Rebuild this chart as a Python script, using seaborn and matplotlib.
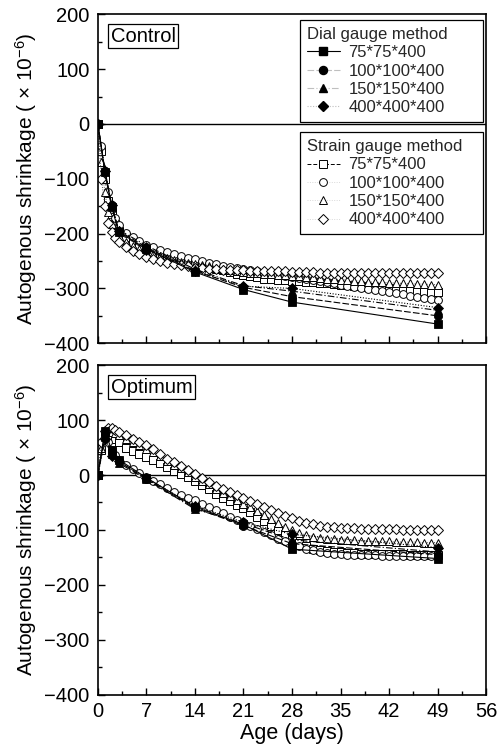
import matplotlib
matplotlib.use("Agg")
import matplotlib.pyplot as plt
import seaborn as sns
import numpy as np
import pandas as pd
from matplotlib.lines import Line2D
from matplotlib.ticker import MultipleLocator

sns.set_theme(style="white")
plt.rcParams['font.family'] = ['Liberation Sans', 'DejaVu Sans']
plt.rcParams['mathtext.fontset'] = 'custom'
plt.rcParams['mathtext.rm'] = 'Liberation Sans'
plt.rcParams['mathtext.default'] = 'regular'

# ---------------- data ----------------
specimens = ["75*75*400", "100*100*400", "150*150*400", "400*400*400"]
dial_days = [0, 1, 2, 3, 7, 14, 21, 28, 49]
strain_days = [0, 0.5, 1, 1.5, 2, 2.5, 3] + list(range(4, 50))

# Control - dial gauge
ctrl_dial_75 = [0, -88, -152, -197, -228, -270, -302, -325, -365]
ctrl_dial_100 = [0, -85, -148, -195, -225, -268, -298, -315, -350]
ctrl_dial_150 = [0, -84, -150, -193, -222, -265, -295, -305, -340]
ctrl_dial_400 = [0, -86, -147, -196, -230, -268, -296, -300, -335]

# Control - strain gauge
ctrl_strain_75 = [0, -50, -100, -140, -165, -182, -195,
                  -207, -216, -223, -229, -234, -238, -242, -246, -249, -252,
                  -255, -258, -261, -264, -267, -270, -273, -276, -278, -280,
                  -282, -283, -284, -285, -286, -287, -288, -289, -290, -291,
                  -292, -293, -294, -295, -296, -297, -298, -299, -300, -301,
                  -302, -303, -304, -305, -306, -307]
ctrl_strain_100 = [0, -40, -85, -125, -155, -172, -185,
                   -198, -207, -214, -220, -225, -230, -234, -238, -241, -244,
                   -247, -250, -253, -256, -259, -261, -263, -265, -267, -269,
                   -271, -273, -275, -277, -279, -281, -283, -285, -287, -289,
                   -291, -293, -295, -297, -299, -301, -303, -305, -307, -309,
                   -311, -313, -315, -317, -319, -321]
ctrl_strain_150 = [0, -70, -125, -160, -182, -195, -205,
                   -215, -222, -228, -233, -237, -241, -245, -248, -251, -254,
                   -256, -258, -260, -262, -264, -266, -268, -270, -271, -272,
                   -273, -274, -275, -276, -277, -278, -279, -280, -281, -282,
                   -283, -284, -285, -286, -287, -288, -289, -289, -290, -290,
                   -291, -291, -292, -292, -293, -293]
ctrl_strain_400 = [0, -100, -150, -180, -197, -208, -215,
                   -224, -231, -237, -242, -246, -250, -253, -256, -258, -260,
                   -262, -263, -264, -265, -266, -266, -267, -267, -268, -268,
                   -268, -269, -269, -269, -270, -270, -270, -270, -271, -271,
                   -271, -271, -271, -272, -272, -272, -272, -272, -272, -272,
                   -272, -272, -272, -272, -272, -272]

# Optimum - dial gauge
opt_dial_75 = [0, 80, 45, 28, -5, -58, -90, -135, -152]
opt_dial_100 = [0, 75, 40, 25, -7, -60, -92, -125, -145]
opt_dial_150 = [0, 70, 38, 22, -8, -62, -88, -118, -140]
opt_dial_400 = [0, 65, 35, 25, -6, -56, -86, -108, -132]

# Optimum - strain gauge
opt_strain_75 = [0, 45, 68, 72, 70, 65, 60,
                 50, 44, 38, 33, 27, 21, 15, 8, 2, -4,
                 -10, -18, -26, -34, -41, -48, -54, -60, -68, -76,
                 -84, -92, -100, -108, -116, -123, -129, -134, -137, -139,
                 -140, -141, -142, -142, -143, -143, -143, -144, -144, -144,
                 -144, -145, -145, -145, -145, -145]
opt_strain_100 = [0, 50, 72, 60, 46, 36, 28,
                  19, 11, 4, -3, -10, -17, -24, -30, -36, -41,
                  -46, -52, -58, -64, -70, -76, -81, -86, -92, -98,
                  -104, -110, -116, -121, -126, -130, -134, -137, -140, -142,
                  -143, -144, -145, -145, -146, -146, -146, -147, -147, -147,
                  -147, -148, -148, -148, -148, -148]
opt_strain_150 = [0, 50, 75, 80, 79, 76, 72,
                  66, 60, 54, 48, 41, 34, 26, 19, 12, 5,
                  -3, -10, -17, -25, -32, -39, -46, -52, -59, -66,
                  -73, -80, -87, -94, -100, -105, -109, -112, -114, -116,
                  -117, -118, -119, -119, -120, -120, -121, -121, -121, -122,
                  -122, -122, -122, -123, -123, -123]
opt_strain_400 = [0, 60, 80, 86, 85, 82, 78,
                  72, 66, 60, 55, 47, 39, 30, 23, 16, 9,
                  2, -5, -12, -20, -26, -31, -37, -42, -48, -53,
                  -58, -64, -69, -74, -79, -83, -87, -90, -92, -94,
                  -95, -96, -97, -97, -98, -98, -98, -99, -99, -99,
                  -100, -100, -100, -100, -100, -100]

panels = [
    ("Control", [ctrl_dial_75, ctrl_dial_100, ctrl_dial_150, ctrl_dial_400],
     [ctrl_strain_75, ctrl_strain_100, ctrl_strain_150, ctrl_strain_400]),
    ("Optimum", [opt_dial_75, opt_dial_100, opt_dial_150, opt_dial_400],
     [opt_strain_75, opt_strain_100, opt_strain_150, opt_strain_400]),
]

# ---------------- styles ----------------
markers = ["s", "o", "^", "D"]
dial_ls = ["-", (0, (6, 2)), (0, (6, 2, 1, 2)), (0, (1, 1.5))]
strain_ls = [(0, (4, 2)), (0, (1, 1.5)), (0, (1, 1.5)), (0, (1, 1.5))]
dial_ms = [5.6, 5.8, 6.2, 5.6]
strain_ms = [5.2, 5.6, 5.8, 5.4]

fig = plt.figure(figsize=(4.97, 7.56), dpi=100)
ax_top = fig.add_axes([0.197, 0.546, 0.781, 0.435])
ax_bot = fig.add_axes([0.197, 0.081, 0.781, 0.436])

for ax, (name, dial, strain) in zip([ax_top, ax_bot], panels):
    ax.axhline(0, color="black", lw=1.0, zorder=1)
    for i in range(4):
        df = pd.DataFrame({"day": strain_days, "val": strain[i]})
        sns.lineplot(data=df, x="day", y="val", ax=ax, color="0.35",
                     linestyle=strain_ls[i], lw=0.7, marker=markers[i],
                     markersize=strain_ms[i], markerfacecolor="white",
                     markeredgecolor="black", markeredgewidth=0.7,
                     legend=False, zorder=2 + i * 0.1)
    for i in range(4):
        df = pd.DataFrame({"day": dial_days, "val": dial[i]})
        sns.lineplot(data=df, x="day", y="val", ax=ax, color="black",
                     linestyle=dial_ls[i], lw=0.8, marker=markers[i],
                     markersize=dial_ms[i], markerfacecolor="black",
                     markeredgecolor="black", markeredgewidth=0.6,
                     legend=False, zorder=4)
    ax.set_xlim(0, 56)
    ax.set_ylim(-400, 200)
    ax.xaxis.set_major_locator(MultipleLocator(7))
    ax.xaxis.set_minor_locator(MultipleLocator(3.5))
    ax.yaxis.set_major_locator(MultipleLocator(100))
    ax.yaxis.set_minor_locator(MultipleLocator(50))
    ax.tick_params(which="both", direction="in", bottom=True, left=True,
                   top=False, right=False, colors="black", labelsize=14.5,
                   width=1.0)
    ax.tick_params(axis="y", pad=6)
    ax.tick_params(axis="x", pad=5)
    ax.tick_params(which="major", length=5)
    ax.tick_params(which="minor", length=3)
    for s in ax.spines.values():
        s.set_color("black")
        s.set_linewidth(1.2)
    ax.set_ylabel("Autogenous shrinkage ( × 10$^{-6}$)", fontsize=15,
                  color="black", labelpad=4)
    ax.text(0.033, 0.962, name, transform=ax.transAxes, fontsize=14.5,
            ha="left", va="top", color="black", zorder=10,
            bbox=dict(boxstyle="square,pad=0.12", fc="white", ec="black", lw=0.9))
    ax.grid(False)

ax_top.set_xlabel("")
ax_top.tick_params(labelbottom=False)
ax_bot.set_xlabel("Age (days)", fontsize=15.5, color="black", labelpad=2)

# legends
def handles(filled):
    hs = []
    for i in range(4):
        if filled:
            hs.append(Line2D([], [], color="black" if i == 0 else "0.75",
                             linestyle=dial_ls[i], lw=0.8, marker=markers[i],
                             markersize=dial_ms[i], markerfacecolor="black",
                             markeredgecolor="black"))
        else:
            hs.append(Line2D([], [], color="black" if i == 0 else "0.85",
                             linestyle=strain_ls[i], lw=0.7, marker=markers[i],
                             markersize=strain_ms[i], markerfacecolor="white",
                             markeredgecolor="black", markeredgewidth=0.7))
    return hs

leg_kw = dict(fontsize=12, title_fontsize=12, frameon=True, fancybox=False,
              edgecolor="black", framealpha=1, handlelength=2.0,
              handletextpad=0.5, labelspacing=0.2, borderpad=0.4,
              borderaxespad=0.0, alignment="left", loc="upper left",
              mode="expand")
leg1 = ax_top.legend(handles(True), specimens, title="Dial gauge method",
                     bbox_to_anchor=(0.521, 0.0, 0.471, 0.982), **leg_kw)
leg1.get_frame().set_linewidth(0.9)
ax_top.add_artist(leg1)
leg2 = ax_top.legend(handles(False), specimens, title="Strain gauge method",
                     bbox_to_anchor=(0.521, 0.0, 0.471, 0.641), **leg_kw)
leg2.get_frame().set_linewidth(0.9)

fig.savefig("out.png", dpi=100, facecolor="white")
